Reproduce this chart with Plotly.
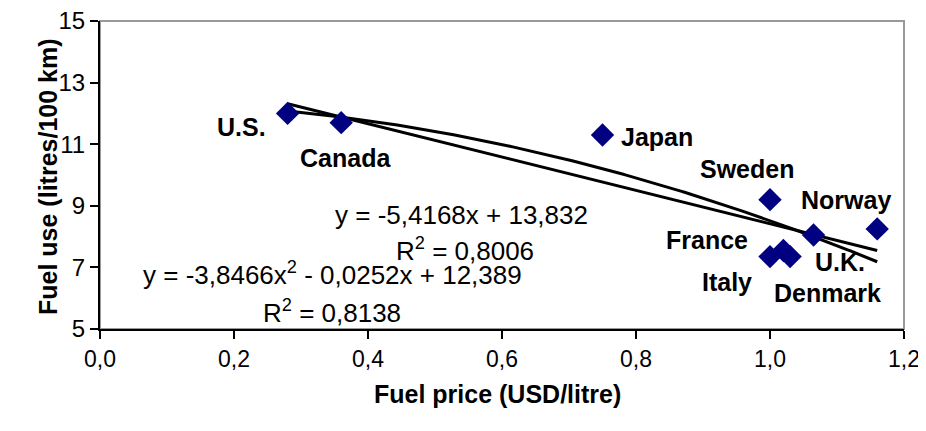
import numpy as np
import plotly.graph_objects as go

countries = ["U.S.", "Canada", "Japan", "Sweden", "Norway", "France", "U.K.", "Italy", "Denmark"]
price = [0.28, 0.36, 0.75, 1.00, 1.16, 1.02, 1.065, 1.00, 1.03]
fuel_use = [12.0, 11.7, 11.3, 9.2, 8.25, 7.55, 8.05, 7.35, 7.35]
# label offsets (pixels) relative to each point
label_dx = [-46, 4, 54, -23, -31, -76, 26, -43, 37]
label_dy = [-14, -35, -2, 31, 29, 10, -27, -25, -36]

lin_coef = [-5.4168, 13.832]
poly_coef = [-3.8466, -0.0252, 12.389]
lin_text = ["y = -5,4168x + 13,832", "R<sup>2</sup> = 0,8006"]
poly_text = ["y = -3,8466x<sup>2</sup> - 0,0252x + 12,389", "R<sup>2</sup> = 0,8138"]

x_ticks = [0.0, 0.2, 0.4, 0.6, 0.8, 1.0, 1.2]
x_tick_text = ["0,0", "0,2", "0,4", "0,6", "0,8", "1,0", "1,2"]
y_ticks = [5, 7, 9, 11, 13, 15]

FONT = "Liberation Sans, Arial, sans-serif"

# page is 926x431; the html body adds an 8px margin (avoid vertical overflow)
OFF = 8
W, H = 926 - OFF, 431 - 2 * OFF
PL, PR, PT, PB = 100, 904, 21, 329  # plot area in page pixels
L, T = PL - OFF, PT - OFF
R, B = (W + OFF) - PR, (H + OFF) - PB

fig = go.Figure()

xs = np.linspace(min(price), max(price), 200)
fig.add_trace(go.Scatter(x=xs, y=np.polyval(lin_coef, xs), mode="lines",
                         line=dict(color="black", width=3), showlegend=False, hoverinfo="skip"))
fig.add_trace(go.Scatter(x=xs, y=np.polyval(poly_coef, xs), mode="lines",
                         line=dict(color="black", width=3), showlegend=False, hoverinfo="skip"))
fig.add_trace(go.Scatter(x=price, y=fuel_use, mode="markers",
                         marker=dict(symbol="diamond", size=18, color="#000080",
                                     line=dict(width=0)),
                         showlegend=False))

annotations = []
for c, px, py, dx, dy in zip(countries, price, fuel_use, label_dx, label_dy):
    annotations.append(dict(x=px, y=py, xref="x", yref="y", text=f"<b>{c}</b>",
                            showarrow=False, xshift=dx, yshift=dy,
                            font=dict(family=FONT, size=25, color="black")))

def paper(px_, py_):
    return (px_ - PL) / (PR - PL), (PB - py_) / (PB - PT)

eq_pos = [(461, 215), (465, 250), (332, 273), (332, 311)]
for txt, (ex, ey) in zip(lin_text + poly_text, eq_pos):
    xp, yp = paper(ex, ey)
    annotations.append(dict(x=xp, y=yp, xref="paper", yref="paper", text=txt,
                            showarrow=False, xanchor="center", yanchor="middle",
                            font=dict(family=FONT, size=26, color="black")))

xp, yp = paper(497, 410)
annotations.append(dict(x=xp, y=yp, xref="paper", yref="paper",
                        text="<b>Fuel price (USD/litre)</b>", showarrow=False,
                        font=dict(family=FONT, size=25, color="black")))
xp, yp = paper(32, 177)
annotations.append(dict(x=xp, y=yp, xref="paper", yref="paper",
                        text="<b>Fuel use (litres/100 km)</b>", showarrow=False, textangle=-90,
                        font=dict(family=FONT, size=25, color="black")))

fig.update_layout(
    width=W, height=H,
    margin=dict(l=L, r=R, t=T, b=B, autoexpand=False),
    paper_bgcolor="white", plot_bgcolor="white",
    annotations=annotations,
    shapes=[dict(type="rect", xref="paper", yref="paper", x0=0, y0=0, x1=1, y1=1,
                 line=dict(color="#999999", width=2), layer="below")],
    xaxis=dict(range=[0, 1.2], tickvals=x_ticks, ticktext=x_tick_text, automargin=False,
               ticklabeloverflow="allow",
               showgrid=False, zeroline=False, showline=True, linecolor="black", linewidth=2,
               ticks="outside", ticklen=8, tickcolor="black", tickwidth=1.5,
               tickfont=dict(family=FONT, size=23, color="black")),
    yaxis=dict(range=[5, 15], tickvals=y_ticks, automargin=False,
               ticklabeloverflow="allow",
               showgrid=False, zeroline=False, showline=True, linecolor="black", linewidth=2,
               ticks="outside", ticklen=8, tickcolor="black", tickwidth=1.5,
               tickfont=dict(family=FONT, size=24, color="black")),
)

fig.write_html("out.html")
